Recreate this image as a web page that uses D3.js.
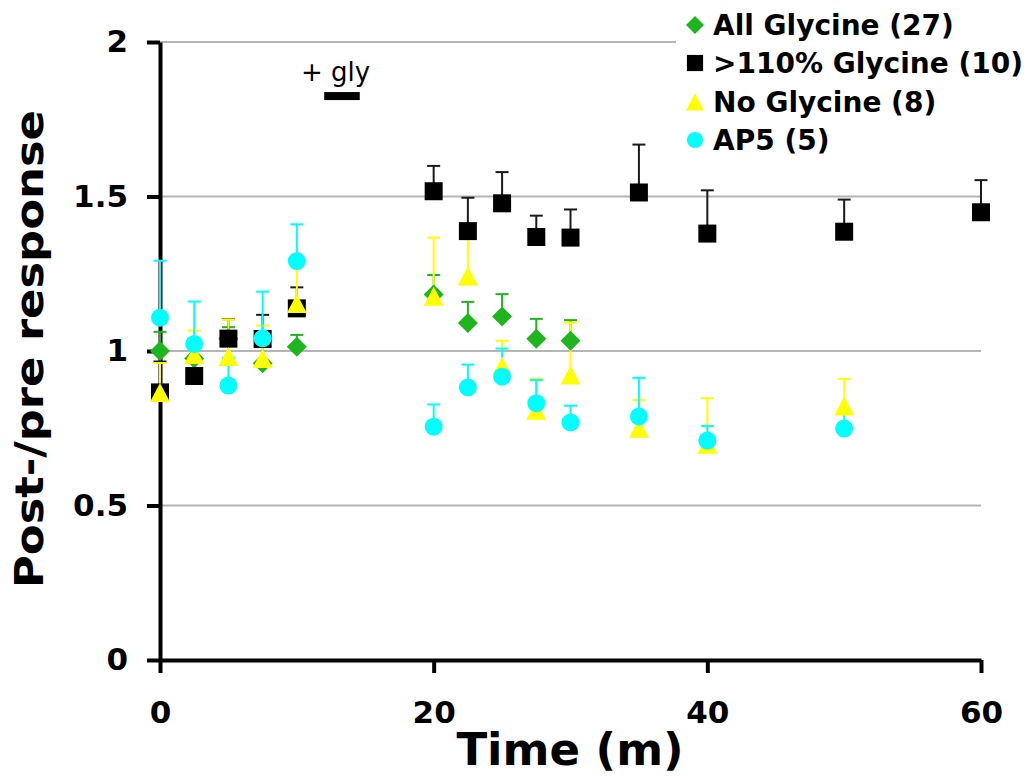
<!DOCTYPE html>
<html>
<head>
<meta charset="utf-8">
<script src="https://cdn.jsdelivr.net/npm/d3@7"></script>
<style>
  body { margin: 0; background: #fff; }
  svg { font-family: "DejaVu Sans", Verdana, sans-serif; }
</style>
</head>
<body>
<svg width="1035" height="777"></svg>
<script>
// series values (time in minutes, mean, upper error)
var allGlyTime = [0, 2.5, 5, 7.5, 10, 20, 22.5, 25, 27.5, 30];
var allGlyMean = [1.0, 0.976, 1.04, 0.96, 1.014, 1.183, 1.091, 1.112, 1.04, 1.033];
var allGlyErr = [0.062, 0.06, 0.037, 0.06, 0.038, 0.063, 0.068, 0.072, 0.064, 0.067];

var highGlyTime = [0, 2.5, 5, 7.5, 10, 20, 22.5, 25, 27.5, 30, 35, 40, 50, 60];
var highGlyMean = [0.866, 0.919, 1.04, 1.039, 1.138, 1.517, 1.388, 1.478, 1.369, 1.367, 1.513, 1.38, 1.386, 1.449];
var highGlyErr = [0.1, 0.05, 0.063, 0.078, 0.068, 0.082, 0.108, 0.101, 0.069, 0.091, 0.155, 0.14, 0.104, 0.104];

var noGlyTime = [0, 2.5, 5, 7.5, 10, 20, 22.5, 25, 27.5, 30, 35, 40, 50];
var noGlyMean = [0.866, 0.989, 0.982, 0.976, 1.154, 1.177, 1.243, 0.951, 0.808, 0.922, 0.75, 0.698, 0.822];
var noGlyErr = [0.095, 0.077, 0.12, 0.106, 0.145, 0.19, 0.13, 0.082, 0.102, 0.17, 0.091, 0.149, 0.088];

var ap5Time = [0, 2.5, 5, 7.5, 10, 20, 22.5, 25, 27.5, 30, 35, 40, 50];
var ap5Mean = [1.108, 1.023, 0.888, 1.041, 1.291, 0.755, 0.882, 0.917, 0.831, 0.769, 0.788, 0.71, 0.749];
var ap5Err = [0.184, 0.137, 0.09, 0.151, 0.119, 0.072, 0.074, 0.091, 0.075, 0.054, 0.125, 0.047, 0.05];

var seriesNames = ["All Glycine (27)", ">110% Glycine (10)", "No Glycine (8)", "AP5 (5)"];
var seriesColors = ["#1fb51f", "#000000", "#ffff00", "#00ffff"];
var seriesShapes = ["diamond", "square", "triangle", "circle"];

var yTicks = [0, 0.5, 1, 1.5, 2];
var xTicks = [0, 20, 40, 60];
var glyBar = [12, 14.6];
var glyLevel = 1.825;

function drawChart() {
  var svg = d3.select("svg");

  var xScale = d3.scaleLinear().domain([0, 60]).range([160, 981]);
  var yScale = d3.scaleLinear().domain([0, 2]).range([660, 42]);

  // build series table from the arrays above
  var series = [
    { time: allGlyTime, mean: allGlyMean, err: allGlyErr },
    { time: highGlyTime, mean: highGlyMean, err: highGlyErr },
    { time: noGlyTime, mean: noGlyMean, err: noGlyErr },
    { time: ap5Time, mean: ap5Mean, err: ap5Err },
  ].map(function (s, i) {
    return {
      name: seriesNames[i],
      color: seriesColors[i],
      shape: seriesShapes[i],
      points: s.time.map(function (t, j) {
        return { t: t, v: s.mean[j], e: s.err[j] };
      }),
    };
  });

  //Gridlines
  svg
    .append("g")
    .selectAll("line")
    .data(yTicks.filter((d) => d > 0))
    .join("line")
    .attr("x1", xScale(0))
    .attr("x2", xScale(60))
    .attr("y1", (d) => yScale(d))
    .attr("y2", (d) => yScale(d))
    .attr("stroke", "#b4b4b4")
    .attr("stroke-width", 2);

  //Axes
  var yAxis = d3
    .axisLeft(yScale)
    .tickValues(yTicks)
    .tickFormat(d3.format("~g"))
    .tickSizeInner(13)
    .tickSizeOuter(0)
    .tickPadding(19);
  var xAxis = d3
    .axisBottom(xScale)
    .tickValues(xTicks)
    .tickSizeInner(13)
    .tickSizeOuter(0)
    .tickPadding(28);

  var gy = svg.append("g").attr("transform", "translate(160,0)").call(yAxis);
  var gx = svg.append("g").attr("transform", "translate(0,660)").call(xAxis);

  [gx, gy].forEach(function (g) {
    g.select(".domain").attr("stroke", "#000").attr("stroke-width", 4);
    g.selectAll(".tick line").attr("stroke", "#000").attr("stroke-width", 4);
    g.selectAll(".tick text")
      .attr("fill", "#000")
      .style("font-size", "31px")
      .style("font-weight", "bold")
      .style("font-family", '"DejaVu Sans", Verdana, sans-serif');
  });

  //Marker shapes
  function shapePath(shape, k) {
    if (shape === "diamond") return d3.line()([[0, -10 * k], [10 * k, 0], [0, 10 * k], [-10 * k, 0]]) + "Z";
    if (shape === "square") return d3.line()([[-9 * k, -9 * k], [9 * k, -9 * k], [9 * k, 9 * k], [-9 * k, 9 * k]]) + "Z";
    if (shape === "triangle") return d3.line()([[0, -9.5 * k], [10 * k, 9.5 * k], [-10 * k, 9.5 * k]]) + "Z";
    var r = 9 * k;
    return "M" + -r + ",0A" + r + "," + r + " 0 1,0 " + r + ",0A" + r + "," + r + " 0 1,0 " + -r + ",0Z";
  }

  //Error bars (upper only)
  series.forEach(function (s) {
    var g = svg.append("g").attr("stroke", s.color === "#000000" ? "#1a1a1a" : s.color).attr("stroke-width", 2);
    g.selectAll(".err-line")
      .data(s.points)
      .join("line")
      .attr("class", "err-line")
      .attr("x1", (d) => xScale(d.t))
      .attr("x2", (d) => xScale(d.t))
      .attr("y1", (d) => yScale(d.v))
      .attr("y2", (d) => yScale(d.v + d.e));
    g.selectAll(".err-cap")
      .data(s.points)
      .join("line")
      .attr("class", "err-cap")
      .attr("x1", (d) => xScale(d.t) - 6.5)
      .attr("x2", (d) => xScale(d.t) + 6.5)
      .attr("y1", (d) => yScale(d.v + d.e))
      .attr("y2", (d) => yScale(d.v + d.e));
  });

  //Markers
  series.forEach(function (s) {
    svg
      .append("g")
      .selectAll("path")
      .data(s.points)
      .join("path")
      .attr("transform", (d) => `translate(${xScale(d.t)},${yScale(d.v)})`)
      .attr("d", shapePath(s.shape, 1))
      .attr("fill", s.color);
  });

  //+ gly bar
  svg
    .append("rect")
    .attr("x", xScale(glyBar[0]))
    .attr("width", xScale(glyBar[1]) - xScale(glyBar[0]))
    .attr("y", yScale(glyLevel) - 4)
    .attr("height", 8)
    .attr("fill", "#000");
  svg
    .append("text")
    .attr("x", 301)
    .attr("y", 81)
    .style("font-size", "26px")
    .text("+ gly");

  //Legend
  var legend = svg.append("g");
  legend.append("rect").attr("x", 676).attr("y", 0).attr("width", 359).attr("height", 160).attr("fill", "#fff");
  var rowY = [25, 63, 102, 140];
  legend
    .selectAll(".legend-mark")
    .data(series)
    .join("path")
    .attr("class", "legend-mark")
    .attr("transform", (d, i) => `translate(695,${rowY[i]})`)
    .attr("d", (d) => shapePath(d.shape, 0.9))
    .attr("fill", (d) => d.color);
  legend
    .selectAll(".legend-label")
    .data(series)
    .join("text")
    .attr("class", "legend-label")
    .attr("x", 713)
    .attr("y", (d, i) => rowY[i] + 10)
    .style("font-size", "28px")
    .style("font-weight", "bold")
    .text((d) => d.name);

  //Axis titles
  svg
    .append("text")
    .attr("x", 570)
    .attr("y", 765)
    .attr("text-anchor", "middle")
    .style("font-size", "45px")
    .style("font-weight", "bold")
    .text("Time (m)");
  svg
    .append("text")
    .attr("transform", "translate(43,349) rotate(-90)")
    .attr("text-anchor", "middle")
    .attr("textLength", 478)
    .attr("lengthAdjust", "spacingAndGlyphs")
    .style("font-size", "39px")
    .style("font-weight", "bold")
    .text("Post-/pre response");
}

drawChart();
</script>
</body>
</html>
